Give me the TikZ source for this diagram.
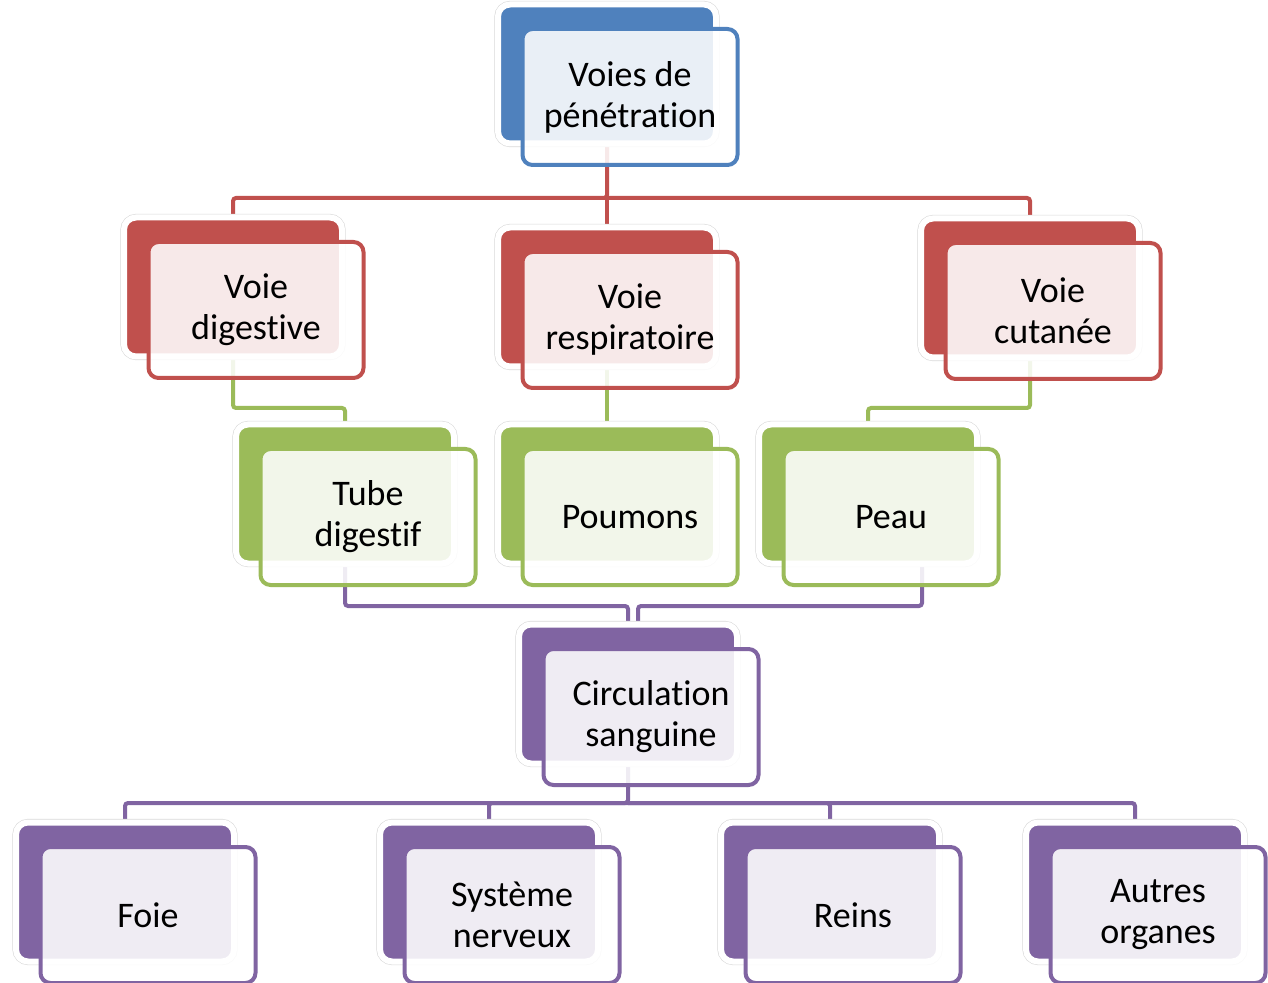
\documentclass[tikz,border=0pt]{standalone}
\usepackage{fontspec}
\setmainfont{Carlito}[Ligatures=NoCommon]
\usepackage{tikz}
\usetikzlibrary{positioning,backgrounds}

\definecolor{bleu}{HTML}{4F81BD}
\definecolor{rouge}{HTML}{C0504D}
\definecolor{vert}{HTML}{9BBB59}
\definecolor{violet}{HTML}{8064A2}

\begin{document}
\begin{tikzpicture}[x=0.5pt, y=-0.5pt,
  back/.style={rounded corners=6pt, fill=#1, draw=white, line width=3pt, preaction={draw=black!15, line width=3.6pt}, minimum width=109pt, minimum height=69.5pt},
  front/.style={rounded corners=5pt, draw=#1, line width=2pt, fill=white, fill opacity=0.88, text opacity=1, minimum width=107.5pt, minimum height=68pt, align=center, font=\fontsize{18pt}{20.5pt}\selectfont, xshift=11.5pt, yshift=-11.5pt},
  link/.style={draw=#1, line width=2pt, rounded corners=1.5pt}]

\useasboundingbox (0,0) rectangle (1268,983);

%niveau 1
\node [back=bleu](voies) at (607,74){};
\node [front=bleu](voies-t) at (voies){Voies de\\pénétration};

%voies
\node [back=rouge](dig) at (233,287){};
\node [front=rouge](dig-t) at (dig){Voie\\digestive};
\node [back=rouge](resp) at (607,297){};
\node [front=rouge](resp-t) at (resp){Voie\\respiratoire};
\node [back=rouge](cut) at (1030,288){};
\node [front=rouge](cut-t) at (cut){Voie\\cutanée};

%organes
\node [back=vert](tube) at (345,494){};
\node [front=vert](tube-t) at (tube){Tube\\digestif};
\node [back=vert](poum) at (607,494){};
\node [front=vert](poum-t) at (poum){Poumons};
\node [back=vert](peau) at (868,494){};
\node [front=vert](peau-t) at (peau){Peau};

%circulation
\node [back=violet](circ) at (628,694){};
\node [front=violet](circ-t) at (circ){Circulation\\sanguine};

%cibles
\node [back=violet](foie) at (125,892){};
\node [front=violet](foie-t) at (foie){Foie};
\node [back=violet](sys) at (489,892){};
\node [front=violet](sys-t) at (sys){Système\\nerveux};
\node [back=violet](reins) at (830,892){};
\node [front=violet](reins-t) at (reins){Reins};
\node [back=violet](autres) at (1135,892){};
\node [front=violet](autres-t) at (autres){Autres\\organes};

%liens
\coordinate (bus1) at (0,198);
\coordinate (bus2) at (0,408);
\coordinate (bus3) at (0,606);
\coordinate (bus4) at (0,803);
\coordinate (peau-out) at ([xshift=27pt]peau.center);

\begin{scope}[on background layer]
\draw [link=rouge] (voies) -- (resp);
\draw [link=rouge] (voies) -- (voies |- bus1) -| (dig);
\draw [link=rouge] (voies |- bus1) -| (cut);

\draw [link=vert] (dig) -- (dig |- bus2) -| (tube);
\draw [link=vert] (resp) -- (poum);
\draw [link=vert] (cut) -- (cut |- bus2) -| (peau);

\draw [link=violet] (tube) -- (tube |- bus3) -| (circ);
\draw [link=violet] (peau-out) -- (peau-out |- bus3) -| ([xshift=5pt]circ.center);

\draw [link=violet] (circ) -- (circ |- bus4) -| (foie);
\draw [link=violet] (circ |- bus4) -| (sys);
\draw [link=violet] (circ |- bus4) -| (reins);
\draw [link=violet] (circ |- bus4) -| (autres);
\end{scope}

\end{tikzpicture}
\end{document}
